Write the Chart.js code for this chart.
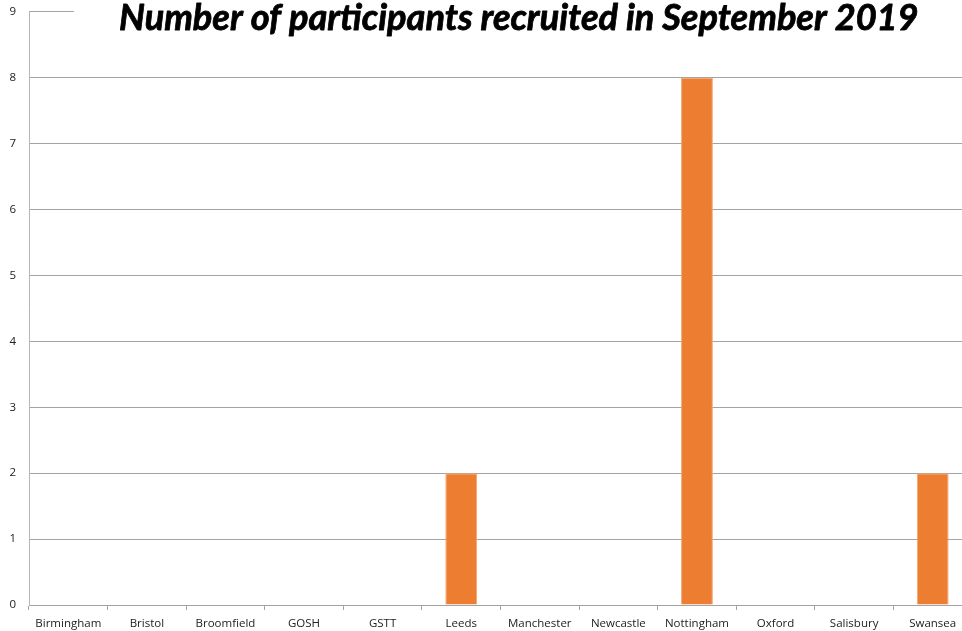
<!DOCTYPE html>
<html>
<head>
<meta charset="utf-8">
<script src="https://cdn.jsdelivr.net/npm/chart.js@4"></script>
<style>
  html, body { margin: 0; padding: 0; background: #fff; overflow: hidden; }
  #wrap { position: absolute; left: 0; top: -8px; width: 975px; height: 639px; }
</style>
</head>
<body>
<div id="wrap"><canvas id="chart" width="975" height="639"></canvas></div>
<script>
const chartTitle = 'Number of participants recruited in September 2019';
const sites = ['Birmingham', 'Bristol', 'Broomfield', 'GOSH', 'GSTT', 'Leeds',
               'Manchester', 'Newcastle', 'Nottingham', 'Oxford', 'Salisbury', 'Swansea'];
const recruited = [0, 0, 0, 0, 0, 2, 0, 0, 8, 0, 0, 2];
const yTicks = [0, 1, 2, 3, 4, 5, 6, 7, 8, 9];

const gridGrey = '#a3a3a3';
const labelFont = { family: 'Open Sans', size: 11.5 };
const shiftY = 8; // canvas is pushed up by this much (see #wrap)

// title sits on a white box over the top of the plot, like the original
const titlePlugin = {
    id: 'overTitle',
    afterDraw(chart) {
        const ctx = chart.ctx;
        ctx.save();
        ctx.fillStyle = '#fff';
        ctx.fillRect(74, 0, chart.width - 74, 40 + shiftY);
        let size = 30;
        ctx.font = 'italic bold ' + size + 'px Lato';
        size = size * 800 / ctx.measureText(chartTitle).width;
        ctx.font = 'italic bold ' + size + 'px Lato';
        ctx.fillStyle = '#000';
        ctx.strokeStyle = '#000';
        ctx.lineWidth = 0.8;
        ctx.lineJoin = 'round';
        ctx.textBaseline = 'alphabetic';
        ctx.textAlign = 'left';
        ctx.fillText(chartTitle, 119, 30 + shiftY);
        ctx.strokeText(chartTitle, 119, 30 + shiftY);
        ctx.restore();
    }
};

new Chart(document.getElementById('chart').getContext('2d'), {
    type: 'bar',
    data: {
        labels: sites,
        datasets: [{
            data: recruited,
            backgroundColor: '#ED7D31',
            borderColor: '#F4A46E',
            borderWidth: 1,
            barPercentage: 0.405,
            categoryPercentage: 1
        }]
    },
    options: {
        responsive: false,
        animation: false,
        layout: { padding: { top: 2, right: 3, left: 0, bottom: 0 } },
        plugins: { legend: { display: false }, tooltip: { enabled: false } },
        scales: {
            x: {
                offset: true,
                grid: { offset: true, drawOnChartArea: false, drawTicks: true, tickLength: 5, color: gridGrey },
                border: { color: gridGrey },
                ticks: { color: '#222', font: labelFont, padding: 7, maxRotation: 0, autoSkip: false },
                afterFit(s) { s.height = 26; }
            },
            y: {
                min: 0,
                max: 9,
                afterBuildTicks(s) { s.ticks = yTicks.map(v => ({ value: v })); },
                grid: { color: gridGrey, drawTicks: false },
                border: { color: '#b5b5b5' },
                ticks: { color: '#222', font: labelFont, padding: 13 },
                afterFit(s) { s.width = 29; }
            }
        }
    },
    plugins: [titlePlugin]
});
</script>
</body>
</html>
